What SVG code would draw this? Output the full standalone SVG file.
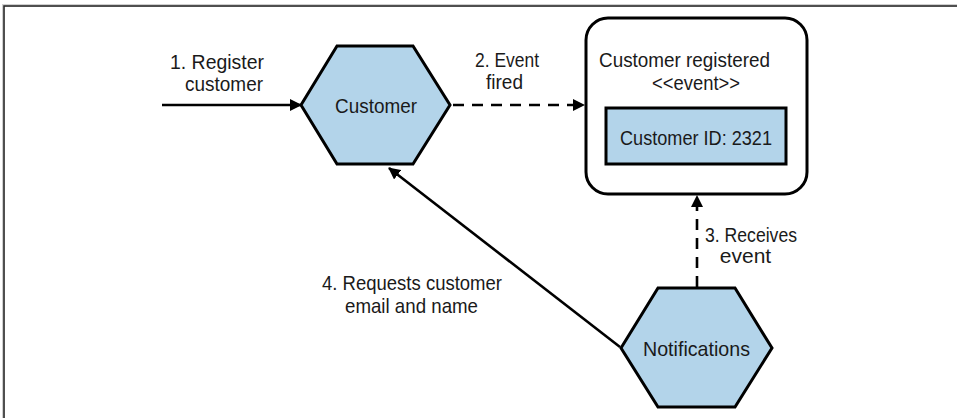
<svg xmlns="http://www.w3.org/2000/svg" width="957" height="418" viewBox="0 0 957 418">
<style>
  text { font-family: "Liberation Sans", Arial, sans-serif; font-size: 21px; fill: #1a1a1a; }
  .hex { fill: #b3d4ea; stroke: #000; stroke-width: 3; stroke-linejoin: miter; }
  .box { fill: #fff; stroke: #000; stroke-width: 3; }
  .inner { fill: #b3d4ea; stroke: #000; stroke-width: 3; }
  .line { fill: none; stroke: #000; stroke-width: 2.6; }
  .dash { fill: none; stroke: #000; stroke-width: 2.6; stroke-dasharray: 11 8; }
</style>
<defs>
  <marker id="arrow" viewBox="0 0 12 12" refX="11" refY="6" markerWidth="12" markerHeight="12" markerUnits="userSpaceOnUse" orient="auto">
    <path d="M0,0 L12,6 L0,12 Z" fill="#000"/>
  </marker>
</defs>
<rect x="0" y="0" width="957" height="418" fill="#fff"/>
<path d="M3.5,418 V5.5 H957" fill="none" stroke="#cfcfcf" stroke-width="3"/>
<path d="M4,418 V6 H957" fill="none" stroke="#262626" stroke-width="1.5"/>

<g id="connectors">
  <line class="line" x1="162" y1="105" x2="301" y2="105" marker-end="url(#arrow)"/>
  <line class="dash" x1="453" y1="105" x2="584" y2="105" marker-end="url(#arrow)"/>
  <line class="dash" x1="697" y1="287" x2="697" y2="196" marker-end="url(#arrow)"/>
  <line class="line" x1="620" y1="347" x2="389" y2="168" marker-end="url(#arrow)"/>
  <text x="170" y="69" textLength="94" lengthAdjust="spacingAndGlyphs">1. Register</text>
  <text x="185" y="91" textLength="78" lengthAdjust="spacingAndGlyphs">customer</text>
  <text x="475" y="67" textLength="64" lengthAdjust="spacingAndGlyphs">2. Event</text>
  <text x="486" y="89" textLength="37" lengthAdjust="spacingAndGlyphs">fired</text>
  <text x="705" y="242" textLength="92" lengthAdjust="spacingAndGlyphs">3. Receives</text>
  <text x="745.5" y="263" text-anchor="middle">event</text>
  <text x="322" y="290" textLength="180" lengthAdjust="spacingAndGlyphs">4. Requests customer</text>
  <text x="345" y="313" textLength="133" lengthAdjust="spacingAndGlyphs">email and name</text>
</g>

<g id="customer">
  <polygon class="hex" points="301,105 337,46 413,46 450,105 413,164 337,164"/>
  <text x="335" y="113" textLength="82" lengthAdjust="spacingAndGlyphs">Customer</text>
</g>

<g id="event">
  <rect class="box" x="586" y="18" width="221" height="176" rx="22" ry="22"/>
  <text x="599" y="67" textLength="171" lengthAdjust="spacingAndGlyphs">Customer registered</text>
  <text x="652" y="90" textLength="88" lengthAdjust="spacingAndGlyphs">&lt;&lt;event&gt;&gt;</text>
  <g id="customer-id">
    <rect class="inner" x="606" y="108" width="180" height="56"/>
    <text x="620" y="145" textLength="152" lengthAdjust="spacingAndGlyphs">Customer ID: 2321</text>
  </g>
</g>

<g id="notifications">
  <polygon class="hex" points="621,348 658,288 735,288 772,348 735,407 658,407"/>
  <text x="643" y="356" textLength="107" lengthAdjust="spacingAndGlyphs">Notifications</text>
</g>
</svg>
